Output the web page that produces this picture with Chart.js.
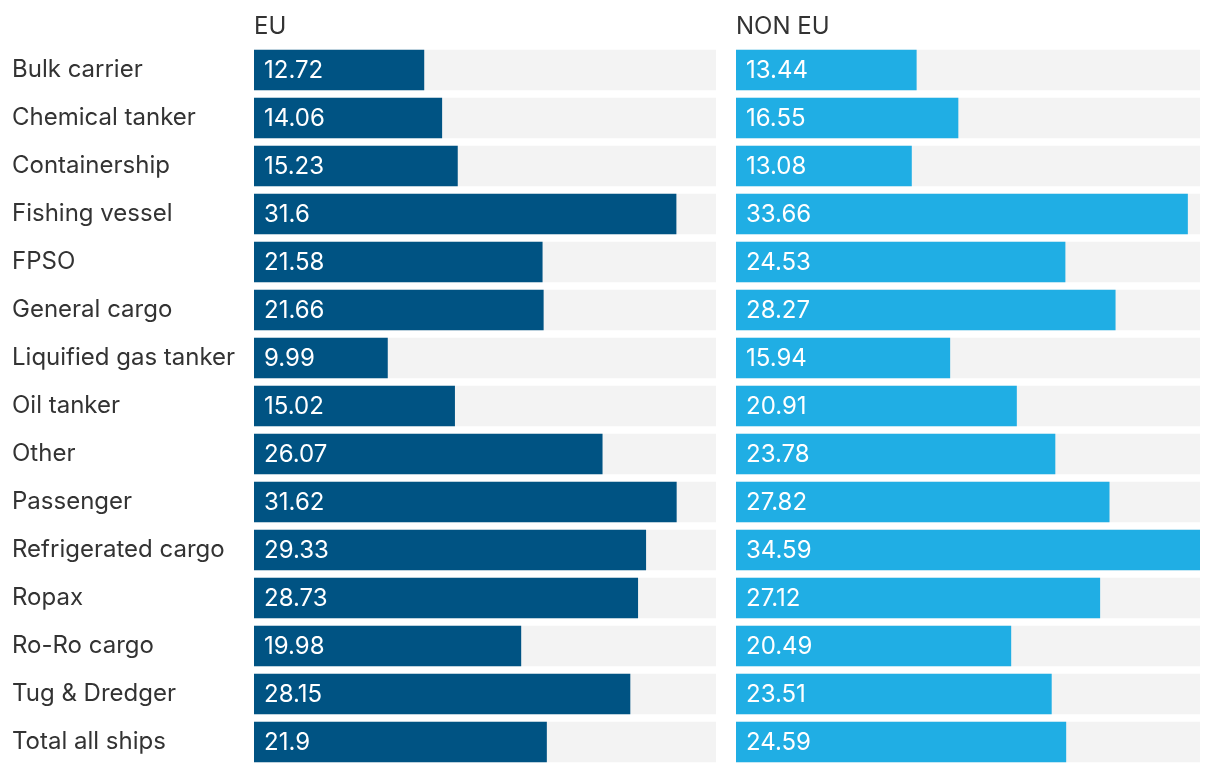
<!DOCTYPE html>
<html>
<head>
<meta charset="utf-8">
<script src="https://cdn.jsdelivr.net/npm/chart.js@4/dist/chart.umd.min.js"></script>
<style>
  body { margin: 0; background: #fff; }
  #wrap { position: relative; width: 1220px; height: 772px; }
  .box { position: absolute; top: 0; height: 772px; }
</style>
</head>
<body>
<div id="wrap">
  <div class="box" style="left:0;width:716px"><canvas id="euChart"></canvas></div>
  <div class="box" style="left:736px;width:464px"><canvas id="nonEuChart"></canvas></div>
</div>
<script>
const shipTypes = ["Bulk carrier", "Chemical tanker", "Containership", "Fishing vessel", "FPSO",
  "General cargo", "Liquified gas tanker", "Oil tanker", "Other", "Passenger",
  "Refrigerated cargo", "Ropax", "Ro-Ro cargo", "Tug & Dredger", "Total all ships"];
const euValues = [12.72, 14.06, 15.23, 31.6, 21.58, 21.66, 9.99, 15.02, 26.07, 31.62, 29.33, 28.73, 19.98, 28.15, 21.9];
const nonEuValues = [13.44, 16.55, 13.08, 33.66, 24.53, 28.27, 15.94, 20.91, 23.78, 27.82, 34.59, 27.12, 20.49, 23.51, 24.59];
const panelTitles = ["EU", "NON EU"];

const FONT = "Inter, 'Noto Sans', sans-serif";
const maxVal = Math.max(...euValues, ...nonEuValues);

// white numbers inside the bars + panel title above chart area
const valueLabels = {
  id: "valueLabels",
  afterDatasetsDraw(chart, args, opts) {
    const ctx = chart.ctx;
    const meta = chart.getDatasetMeta(0);
    ctx.save();
    ctx.font = "24px " + FONT;
    ctx.fillStyle = "#ffffff";
    ctx.textAlign = "left";
    ctx.textBaseline = "middle";
    meta.data.forEach((bar, i) => {
      ctx.fillText(String(chart.data.datasets[0].data[i]), bar.base + 10, bar.y + 1);
    });
    ctx.fillStyle = "#333333";
    ctx.textBaseline = "alphabetic";
    ctx.fillText(opts.title, chart.chartArea.left, 34);
    ctx.restore();
  }
};

function makeChart(id, values, color, title, showLabels) {
  const track = values.map(() => maxVal);
  return new Chart(document.getElementById(id), {
    type: "bar",
    data: {
      labels: shipTypes,
      datasets: [
        { data: values, backgroundColor: color, barThickness: 40, grouped: false },
        { data: track, backgroundColor: "#f3f3f3", barThickness: 40, grouped: false }
      ]
    },
    options: {
      indexAxis: "y",
      responsive: true,
      maintainAspectRatio: false,
      animation: false,
      layout: { padding: { top: 46, bottom: 6, left: showLabels ? 12 : 0, right: 0 } },
      plugins: {
        legend: { display: false },
        tooltip: { enabled: false },
        valueLabels: { title: title }
      },
      scales: {
        x: { display: false, min: 0, max: maxVal },
        y: {
          display: showLabels,
          grid: { display: false },
          border: { display: false },
          ticks: {
            crossAlign: "far",
            color: "#333333",
            font: { family: FONT, size: 24 },
            padding: 0
          },
          afterFit(scale) {
            if (!showLabels) return;
            scale.width = 242;
            scale.paddingTop = 0;
            scale.paddingBottom = 0;
          }
        }
      }
    },
    plugins: [valueLabels]
  });
}

makeChart("euChart", euValues, "#005383", panelTitles[0], true);
makeChart("nonEuChart", nonEuValues, "#20aee4", panelTitles[1], false);
</script>
</body>
</html>
